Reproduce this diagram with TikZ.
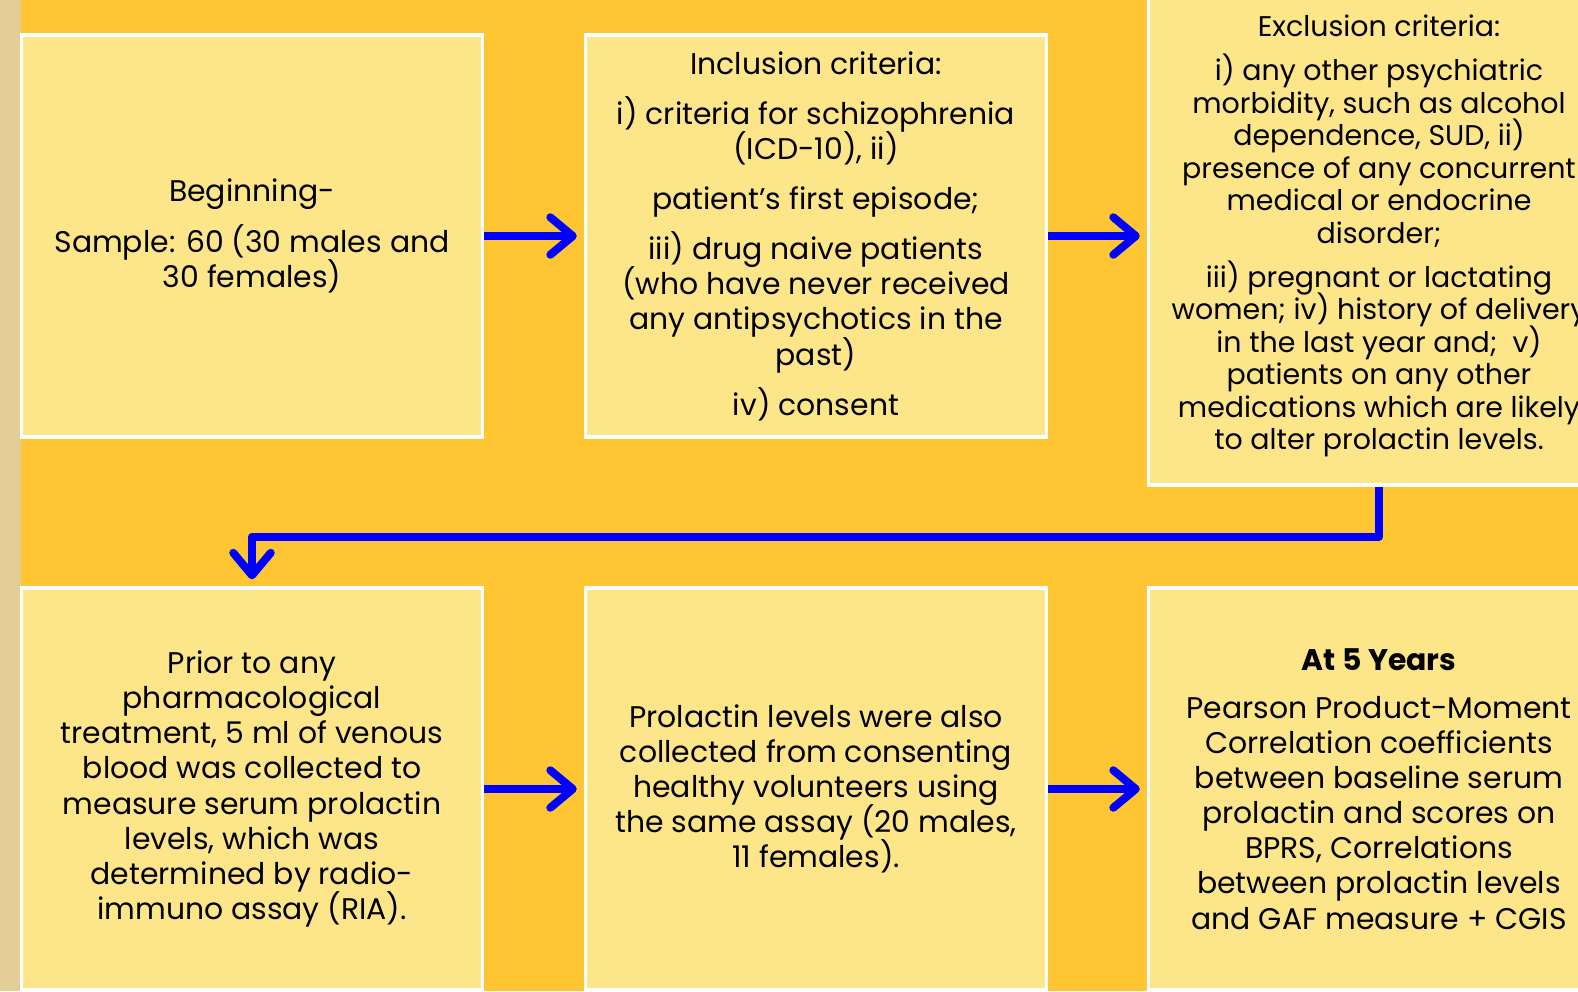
\documentclass[tikz,border=0pt]{standalone}
\usepackage{fontspec}
\setmainfont{Poppins}
\usepackage{tikz}
\usetikzlibrary{arrows.meta,positioning}
\definecolor{bgorange}{RGB}{255,197,51}
\definecolor{boxyellow}{RGB}{253,229,138}
\definecolor{parchment}{RGB}{228,206,152}
\definecolor{flowblue}{RGB}{0,0,255}
\def\flowarrow#1#2{\draw[flow] (#1) -- (#2)}
\def\tightlines{\setlength{\lineskiplimit}{-20pt}}
\tikzstyle{stage}=[draw=white,line width=0.07cm,fill=boxyellow,minimum width=9.22cm,minimum height=8.04cm,inner sep=0pt,align=center,text=black,font=\fontsize{17}{20}\selectfont\tightlines]
\tikzstyle{tall}=[minimum height=9.96cm,font=\fontsize{16.2}{18.5}\selectfont\tightlines]
\tikzstyle{flow}=[draw=flowblue,line width=0.16cm,line join=round,-{Straight Barb[round,length=0.45cm,width=0.75cm]},shorten >=0.14cm]

\begin{document}
\begin{tikzpicture}[x=0.02cm,y=-0.02cm]
    \useasboundingbox (0,0) rectangle (1578,991);
    \clip (0,0) rectangle (1578,991);
    \fill[bgorange] (0,0) rectangle (1578,991);
    \fill[parchment] (0,0) rectangle (21,991);
    \node[stage] (begin) at (252,236) {Beginning-\\[0.3cm]
      Sample: 60 (30 males and\\30 females)};
    \node[stage] (incl) at (816,236) {Inclusion criteria:\\[0.3cm]
      i) criteria for schizophrenia\\(ICD-10), ii)\\[0.3cm]
      patient’s first episode;\\[0.3cm]
      iii) drug naive patients\\(who have never received\\any antipsychotics in the\\past)\\[0.3cm]
      iv) consent};
    \node[stage,tall] (excl) at (1379,236) {Exclusion criteria:\\[0.23cm]
      i) any other psychiatric\\morbidity, such as alcohol\\dependence, SUD, ii)\\presence of any concurrent\\medical or endocrine\\disorder;\\[0.23cm]
      iii) pregnant or lactating\\women; iv) history of delivery\\in the last year and;~ v)\\patients on any other\\medications which are likely\\to alter prolactin levels.};
    \node[stage] (prior) at (252,789) {Prior to any\\pharmacological\\treatment, 5 ml of venous\\blood was collected to\\measure serum prolactin\\levels, which was\\determined by radio-\\immuno assay (RIA).};
    \node[stage] (healthy) at (816,789) {Prolactin levels were also\\collected from consenting\\healthy volunteers using\\the same assay (20 males,\\11 females).};
    \node[stage] (years) at (1379,789) {\textbf{At 5 Years}\\[0.25cm]
      Pearson Product-Moment\\Correlation coefficients\\between baseline serum\\prolactin and scores on\\BPRS, Correlations\\between prolactin levels\\and GAF measure + CGIS};
    \flowarrow{begin}{incl};
    \flowarrow{incl}{excl};
    \draw[flow] (excl.south) -- ++(0,50) -| (prior.north);
    \flowarrow{prior}{healthy};
    \flowarrow{healthy}{years};
\end{tikzpicture}
\end{document}
